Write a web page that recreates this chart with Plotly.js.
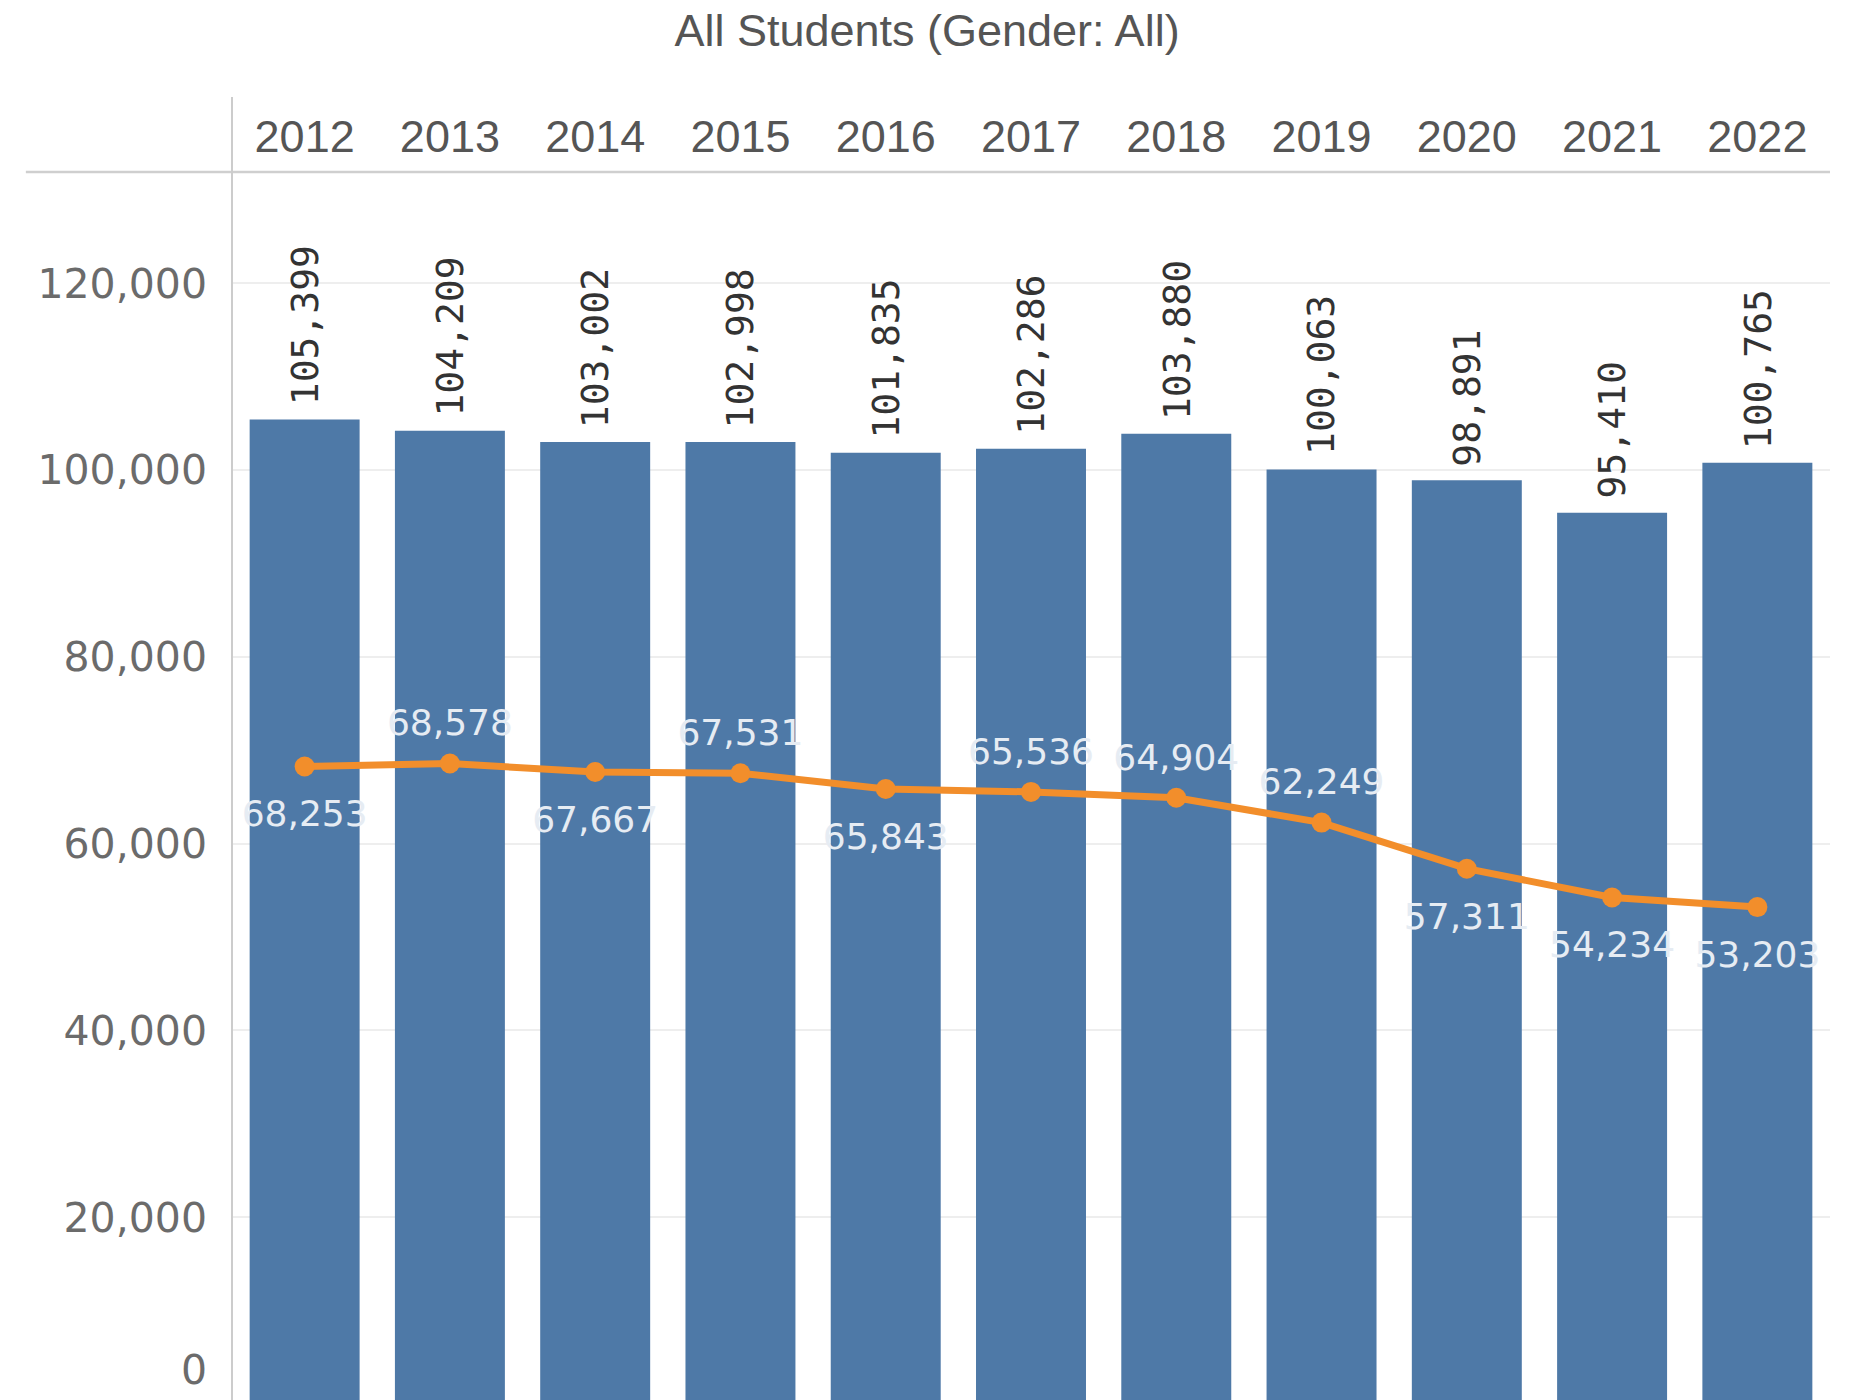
<!DOCTYPE html>
<html>
<head>
<meta charset="utf-8">
<script src="https://cdn.plot.ly/plotly-3.0.1.min.js"></script>
<style>
html, body { margin: 0; padding: 0; background: #ffffff; }
#chart { width: 1854px; height: 1400px; }
</style>
</head>
<body>
<div id="chart"></div>
<script>
// ---- data ----
const years = ['2012', '2013', '2014', '2015', '2016', '2017', '2018', '2019', '2020', '2021', '2022'];
const totalStudents = [105399, 104209, 103002, 102998, 101835, 102286, 103880, 100063, 98891, 95410, 100765];
const lineValues = [68253, 68578, 67667, 67531, 65843, 65536, 64904, 62249, 57311, 54234, 53203];
const lineLabelSides = ['bottom', 'top', 'bottom', 'top', 'bottom', 'top', 'top', 'top', 'bottom', 'bottom', 'bottom'];
const yTickValues = [20000, 40000, 60000, 80000, 100000, 120000];
const yZeroTick = [0];
const chartTitle = 'All Students (Gender: All)';

const fmt = v => v.toLocaleString('en-US');

const barColor = '#4e79a7';
const lineColor = '#f28e2b';

const traces = [
  {
    type: 'bar',
    x: years,
    y: totalStudents,
    marker: { color: barColor, line: { width: 0 } },
    hoverinfo: 'skip',
    showlegend: false
  },
  {
    type: 'scatter',
    mode: 'lines+markers',
    x: years,
    y: lineValues,
    line: { color: lineColor, width: 7 },
    marker: { color: lineColor, size: 20, line: { width: 0 } },
    hoverinfo: 'skip',
    showlegend: false,
    cliponaxis: false
  },
  {
    type: 'scatter',
    mode: 'markers+text',
    x: years,
    y: lineValues,
    text: lineValues.map(fmt),
    textposition: lineLabelSides.map(s => s + ' center'),
    textfont: { family: 'DejaVu Sans', size: 36, color: '#e6ecf3' },
    marker: {
      color: 'rgba(0,0,0,0)',
      opacity: 0,
      line: { width: 0, color: 'rgba(0,0,0,0)' },
      size: lineLabelSides.map(s => s === 'top' ? 29 : 51)
    },
    hoverinfo: 'skip',
    showlegend: false,
    cliponaxis: false
  },
  {
    // helper trace so the overlaying axis carrying the "0" label is drawn
    type: 'scatter',
    mode: 'markers',
    x: [years[0]],
    y: [yZeroTick[0]],
    yaxis: 'y2',
    marker: { color: 'rgba(0,0,0,0)', size: 1, line: { width: 0 } },
    hoverinfo: 'skip',
    showlegend: false
  }
];

// category axis positions are indices, so annotations use the index of each year
const barLabels = years.map((yr, i) => ({
  x: i,
  y: totalStudents[i],
  xref: 'x',
  yref: 'y',
  text: fmt(totalStudents[i]),
  textangle: -90,
  showarrow: false,
  yanchor: 'bottom',
  xanchor: 'center',
  yshift: 12,
  font: { family: 'DejaVu Sans Mono', size: 38, color: '#333333' }
}));

const layout = {
  width: 1854,
  height: 1400,
  margin: { l: 232, r: 24, t: 172, b: 0, pad: 0 },
  paper_bgcolor: '#ffffff',
  plot_bgcolor: '#ffffff',
  showlegend: false,
  bargap: 0.243,
  title: {
    text: chartTitle,
    x: 0.5,
    xref: 'container',
    xanchor: 'center',
    y: 1 - 30 / 1400,
    yref: 'container',
    yanchor: 'middle',
    font: { family: 'Liberation Sans', size: 45, color: '#555555' }
  },
  xaxis: {
    type: 'category',
    categoryorder: 'array',
    categoryarray: years,
    range: [-0.5, years.length - 0.5],
    side: 'top',
    showgrid: false,
    showline: false,
    zeroline: false,
    ticks: '',
    ticklabelstandoff: 10,
    tickfont: { family: 'Liberation Sans', size: 45, color: '#555555' },
    fixedrange: true
  },
  yaxis: {
    range: [428, 131906],
    tickvals: yTickValues,
    tickformat: ',d',
    showgrid: true,
    gridcolor: '#eeeeee',
    gridwidth: 2,
    zeroline: false,
    showline: false,
    ticks: '',
    ticklabelstandoff: 24,
    tickfont: { family: 'DejaVu Sans', size: 41, color: '#6b6b6b' },
    fixedrange: true
  },
  yaxis2: {
    overlaying: 'y',
    anchor: 'x',
    side: 'left',
    range: [-3212, 128266],
    tickvals: yZeroTick,
    tickformat: ',d',
    showgrid: false,
    zeroline: false,
    showline: false,
    ticks: '',
    ticklabelstandoff: 24,
    tickfont: { family: 'DejaVu Sans', size: 41, color: '#6b6b6b' },
    fixedrange: true
  },
  shapes: [
    {
      type: 'line', xref: 'paper', yref: 'paper',
      x0: -0.129, x1: 1, y0: 1, y1: 1,
      line: { color: '#cfcfcf', width: 2.5 },
      layer: 'above'
    },
    {
      type: 'line', xref: 'paper', yref: 'paper',
      x0: 0, x1: 0, y0: 0, y1: 1.061,
      line: { color: '#cccccc', width: 2 },
      layer: 'above'
    }
  ],
  annotations: barLabels
};

Plotly.newPlot('chart', traces, layout, { displayModeBar: false, staticPlot: true });
</script>
</body>
</html>
